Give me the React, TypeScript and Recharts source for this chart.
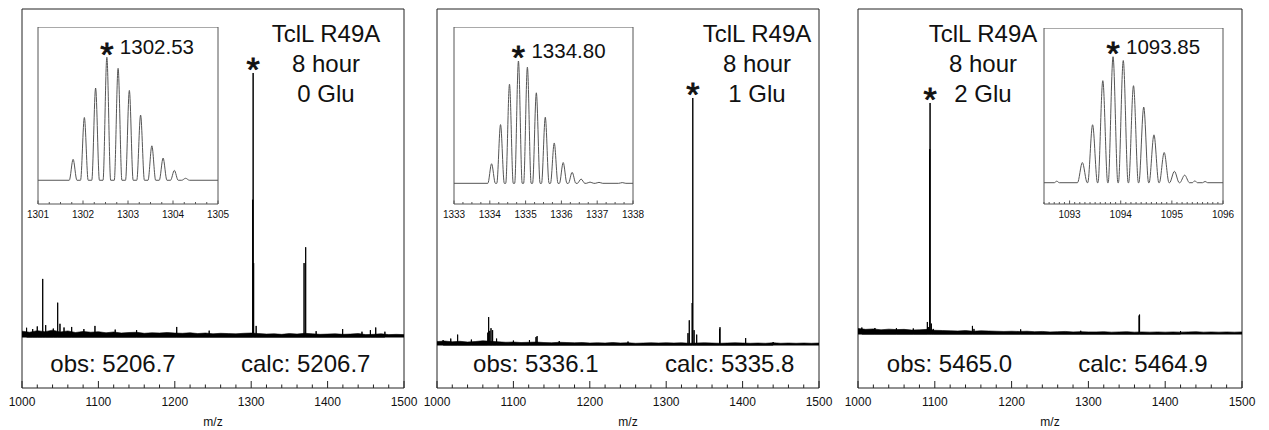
import React from "react";
import {
  ComposedChart,
  LineChart,
  Line,
  Area,
  XAxis,
  YAxis,
  ReferenceLine,
  ReferenceArea,
  ReferenceDot,
} from "recharts";

const FONT = '"Liberation Sans", Arial, Helvetica, sans-serif';

// shared m/z axis
const MZ_TICKS = [
  1000, 1020, 1040, 1060, 1080, 1100, 1120, 1140, 1160, 1180, 1200, 1220, 1240,
  1260, 1280, 1300, 1320, 1340, 1360, 1380, 1400, 1420, 1440, 1460, 1480, 1500,
];
const NOISE_MZ = [
  1000, 1010, 1020, 1030, 1040, 1050, 1060, 1070, 1080, 1090, 1100, 1110, 1120,
  1130, 1140, 1150, 1160, 1170, 1180, 1190, 1200, 1210, 1220, 1230, 1240, 1250,
  1260, 1270, 1280, 1290, 1300, 1310, 1320, 1330, 1340, 1350, 1360, 1370, 1380,
  1390, 1400, 1410, 1420, 1430, 1440, 1450, 1460, 1470, 1480, 1490, 1500,
];

// 0 Glu
const PEAK0_MZ = [
  1006, 1014, 1020, 1027.1, 1031, 1041, 1046.7, 1049.7, 1055, 1065, 1081, 1095.5,
  1122, 1150, 1202.5, 1245, 1302.0, 1302.53, 1303.2, 1306.5, 1369.2, 1371.3, 1385,
  1419.7, 1445, 1456, 1463, 1475,
];
const PEAK0_INT = [
  3.5, 3.0, 4.0, 22, 4.5, 3.2, 13, 5, 3.6, 3.8, 3.0, 4.2, 2.8, 2.6, 3.8, 2.4, 52,
  100, 28, 4.2, 28, 34, 2.2, 3.0, 2.0, 2.6, 3.6, 2.0,
];
const NOISE0 = [
  2.2, 1.8, 2.4, 2.0, 2.6, 1.9, 2.3, 1.7, 2.1, 1.8, 2.0, 1.6, 1.9, 1.5, 1.7, 1.8,
  1.4, 1.6, 1.5, 1.7, 1.5, 1.4, 1.6, 1.3, 1.5, 1.2, 1.4, 1.3, 1.2, 1.4, 1.5, 1.3,
  1.1, 1.2, 1.0, 1.3, 1.1, 1.4, 1.2, 1.0, 1.1, 1.2, 1.0, 1.1, 1.3, 0.9, 1.0, 1.2,
  0.9, 1.0, 0.9,
];
const ISO0: [number, number][] = [
  [1301, 0], [1301.695, 0], [1301.78, 17], [1301.865, 0], [1301.945, 0], [1302.03, 51],
  [1302.115, 0], [1302.195, 0], [1302.28, 75], [1302.365, 0], [1302.445, 0], [1302.53, 100],
  [1302.615, 0], [1302.695, 0], [1302.78, 91], [1302.865, 0], [1302.945, 0], [1303.03, 73],
  [1303.115, 0], [1303.195, 0], [1303.28, 53], [1303.365, 0], [1303.445, 0], [1303.53, 28],
  [1303.615, 0], [1303.695, 0], [1303.78, 18], [1303.865, 0], [1303.945, 0], [1304.03, 8],
  [1304.115, 0], [1304.195, 0], [1304.28, 1.6], [1304.365, 0], [1305, 0],
];
const ISO0_TICKS = [
  1301, 1301.25, 1301.5, 1301.75, 1302, 1302.25, 1302.5, 1302.75, 1303, 1303.25,
  1303.5, 1303.75, 1304, 1304.25, 1304.5, 1304.75, 1305,
];

// 1 Glu
const PEAK1_MZ = [
  1008, 1018, 1027, 1045, 1066.5, 1067.6, 1069, 1070.7, 1072.8, 1078, 1100, 1121,
  1129.6, 1131, 1160, 1250, 1328.5, 1330.2, 1334.0, 1334.8, 1336.5, 1339.9, 1369.8,
  1370.4, 1404, 1440,
];
const PEAK1_INT = [
  2.0, 2.6, 4.2, 2.2, 5, 11.3, 5.7, 6.8, 6.0, 2.6, 1.8, 2.0, 3.2, 3.6, 1.6, 1.4,
  4.8, 10, 17, 100, 6, 4.2, 6.5, 7.2, 2.8, 1.2,
];
const NOISE1 = [
  1.4, 1.6, 1.3, 1.5, 1.2, 1.4, 1.7, 1.5, 1.3, 1.1, 1.2, 1.0, 1.1, 1.2, 1.0, 0.9,
  1.1, 1.0, 0.9, 1.0, 0.8, 0.9, 0.8, 1.0, 0.8, 0.9, 0.7, 0.8, 0.9, 0.8, 0.9, 0.8,
  0.9, 0.7, 0.8, 0.9, 0.8, 0.7, 0.8, 0.9, 0.8, 0.7, 0.8, 0.7, 0.9, 0.7, 0.8, 0.7,
  0.8, 0.7, 0.8,
];
const ISO1: [number, number][] = [
  [1333, 0], [1333.945, 0], [1334.05, 16], [1334.155, 0], [1334.195, 0], [1334.3, 48],
  [1334.405, 0], [1334.445, 0], [1334.55, 81], [1334.655, 0], [1334.695, 0], [1334.8, 100],
  [1334.905, 0], [1334.945, 0], [1335.05, 95], [1335.155, 0], [1335.195, 0], [1335.3, 74],
  [1335.405, 0], [1335.445, 0], [1335.55, 54], [1335.655, 0], [1335.695, 0], [1335.8, 33],
  [1335.905, 0], [1335.945, 0], [1336.05, 17], [1336.155, 0], [1336.195, 0], [1336.3, 9],
  [1336.405, 0], [1336.445, 0], [1336.55, 3.5], [1336.655, 0], [1336.695, 0], [1336.8, 1],
  [1336.905, 0], [1336.945, 0], [1337.05, 0.8], [1337.155, 0], [1337.6, 0], [1337.7, 0.6],
  [1337.8, 0], [1338, 0],
];
const ISO1_TICKS = [
  1333, 1333.25, 1333.5, 1333.75, 1334, 1334.25, 1334.5, 1334.75, 1335, 1335.25,
  1335.5, 1335.75, 1336, 1336.25, 1336.5, 1336.75, 1337, 1337.25, 1337.5, 1337.75,
  1338,
];

// 2 Glu
const PEAK2_MZ = [
  1005, 1022, 1050, 1072, 1090.3, 1091.5, 1093.4, 1093.85, 1095.5, 1098, 1149,
  1151, 1211.8, 1290, 1366, 1366.6, 1420,
];
const PEAK2_INT = [
  2.8, 2.6, 2.5, 2.4, 5.2, 3, 80, 100, 4.5, 2.2, 3.5, 2.2, 2.0, 1.4, 8.0, 8.4, 1.3,
];
const NOISE2 = [
  2.4, 2.0, 2.2, 1.8, 2.1, 1.9, 2.0, 1.7, 1.8, 2.0, 1.6, 1.5, 1.4, 1.3, 1.5, 1.2,
  1.4, 1.3, 1.2, 1.1, 1.2, 1.1, 1.2, 1.0, 1.1, 0.9, 1.0, 1.1, 0.9, 1.0, 0.9, 0.9,
  1.0, 0.8, 0.9, 1.0, 0.8, 0.9, 0.8, 0.9, 0.8, 0.9, 0.8, 0.9, 1.0, 0.8, 0.9, 0.8,
  0.9, 0.8, 0.9,
];
const ISO2: [number, number][] = [
  [1092.5, 0], [1092.7, 0], [1092.75, 1.2], [1092.8, 0], [1093.155, 0], [1093.25, 16],
  [1093.345, 0], [1093.355, 0], [1093.45, 46], [1093.545, 0], [1093.555, 0], [1093.65, 81],
  [1093.745, 0], [1093.755, 0], [1093.85, 100], [1093.945, 0], [1093.955, 0], [1094.05, 97],
  [1094.145, 0], [1094.155, 0], [1094.25, 77], [1094.345, 0], [1094.355, 0], [1094.45, 60],
  [1094.545, 0], [1094.555, 0], [1094.65, 38], [1094.745, 0], [1094.755, 0], [1094.85, 24],
  [1094.945, 0], [1094.955, 0], [1095.05, 9], [1095.145, 0], [1095.155, 0], [1095.25, 6],
  [1095.345, 0], [1095.4, 0], [1095.45, 1.5], [1095.5, 0], [1095.6, 0], [1095.65, 1.0],
  [1095.7, 0], [1096, 0],
];
const ISO2_TICKS = [
  1092.5, 1092.6, 1092.7, 1092.8, 1092.9, 1093, 1093.1, 1093.2, 1093.3, 1093.4,
  1093.5, 1093.6, 1093.7, 1093.8, 1093.9, 1094, 1094.1, 1094.2, 1094.3, 1094.4,
  1094.5, 1094.6, 1094.7, 1094.8, 1094.9, 1095, 1095.1, 1095.2, 1095.3, 1095.4,
  1095.5, 1095.6, 1095.7, 1095.8, 1095.9, 1096,
];

const TITLE = ["TclL R49A", "8 hour"];
const GLU = ["0 Glu", "1 Glu", "2 Glu"];
const OBS = ["5206.7", "5336.1", "5465.0"];
const CALC = ["5206.7", "5335.8", "5464.9"];
const APEX = [1302.53, 1334.8, 1093.85];
const APEX_LABEL = ["1302.53", "1334.80", "1093.85"];

// layout (page pixels)
const PANELS = [
  {
    box: [22, 9, 404, 388], yDomain: [-19.32, 124.24], mz: PEAK0_MZ, int: PEAK0_INT, noise: NOISE0,
    textX: 326, obsX: 113, calcX: 305.7,
    inset: { box: [38, 27, 218, 204], x: [1301, 1305], y: [-19.3, 124.6], pts: ISO0, ticks: ISO0_TICKS },
  },
  {
    box: [437, 9, 819, 388], yDomain: [-17.41, 136.03], mz: PEAK1_MZ, int: PEAK1_INT, noise: NOISE1,
    textX: 757, obsX: 535.8, calcX: 729.7,
    inset: { box: [454, 27, 633, 204], x: [1333, 1338], y: [-16.9, 127.8], pts: ISO1, ticks: ISO1_TICKS },
  },
  {
    box: [858, 9, 1242, 388], yDomain: [-23.38, 140.69], mz: PEAK2_MZ, int: PEAK2_INT, noise: NOISE2,
    textX: 983, obsX: 949.5, calcX: 1143,
    inset: { box: [1044, 28, 1223, 204], x: [1092.5, 1096], y: [-16.9, 122.8], pts: ISO2, ticks: ISO2_TICKS },
  },
];

function sticks(mz: number[], inten: number[]) {
  const out: { mz: number; v: number }[] = [];
  mz.forEach((m, i) => {
    out.push({ mz: m, v: 0 }, { mz: m, v: inten[i] }, { mz: m, v: 0 });
  });
  return out;
}

function MainTick(props: any) {
  const { x, y, payload } = props;
  const major = payload.value % 100 === 0;
  return (
    <g>
      <line x1={x} x2={x} y1={y} y2={y - (major ? 7 : 3.5)} stroke="#222" strokeWidth={1} />
      {major && (
        <text x={x} y={y + 17.7} textAnchor="middle" fontSize={12} fontFamily={FONT} fill="#111">
          {payload.value}
        </text>
      )}
    </g>
  );
}

function InsetTick(props: any) {
  const { x, y, payload } = props;
  const v = payload.value;
  const major = Math.abs(v - Math.round(v)) < 1e-6;
  return (
    <g>
      <line x1={x} x2={x} y1={y} y2={y - (major ? 3.5 : 2)} stroke="#555" strokeWidth={1} />
      {major && (
        <text x={x} y={y + 14.3} textAnchor="middle" fontSize={10} fontFamily={FONT} fill="#111">
          {Math.round(v)}
        </text>
      )}
    </g>
  );
}

function Star({ cx, cy }: { cx: number; cy: number }) {
  return (
    <text
      x={cx}
      y={cy - 11 + 19.3}
      textAnchor="middle"
      fontSize={34}
      fontFamily={FONT}
      fill="#111"
      stroke="#111"
      strokeWidth={0.9}
    >
      *
    </text>
  );
}

const PAD = 25;

function Spectrum({ p, idx }: { p: (typeof PANELS)[number]; idx: number }) {
  const [l, t, r, b] = p.box;
  const data = sticks(p.mz, p.int);
  const noise = NOISE_MZ.map((mz, i) => ({ mz, v: p.noise[i] }));
  return (
    <div style={{ position: "absolute", left: l - PAD, top: 0 }}>
      <ComposedChart width={r - l + 2 * PAD} height={430} margin={{ top: t, right: PAD, bottom: 0, left: PAD }}>
        <XAxis
          type="number"
          dataKey="mz"
          domain={[1000, 1500]}
          allowDataOverflow
          ticks={MZ_TICKS}
          interval={0}
          height={430 - b}
          tickSize={0}
          tickMargin={0}
          axisLine={false}
          tickLine={false}
          tick={<MainTick />}
          label={{
            content: ({ viewBox }: any) => (
              <text
                x={viewBox.x + viewBox.width / 2}
                y={viewBox.y + 38}
                textAnchor="middle"
                fontSize={12}
                fontFamily={FONT}
                fill="#111"
              >
                m/z
              </text>
            ),
          }}
        />
        <YAxis type="number" hide domain={p.yDomain} allowDataOverflow />
        <ReferenceArea x1={1000} x2={1500} y1={p.yDomain[0]} y2={p.yDomain[1]} fill="none" stroke="#222" strokeWidth={1} />
        <ReferenceLine y={0} stroke="#000" strokeWidth={1.2} />
        <Area
          data={noise}
          dataKey="v"
          type="linear"
          baseValue={0}
          fill="#000"
          fillOpacity={1}
          stroke="#000"
          strokeWidth={0.6}
          isAnimationActive={false}
        />
        <Line data={data} dataKey="v" type="linear" stroke="#000" strokeWidth={1} dot={false} isAnimationActive={false} />
        <ReferenceDot x={APEX[idx]} y={100} r={0} shape={(s: any) => <Star cx={s.cx} cy={s.cy} />} />
      </ComposedChart>
    </div>
  );
}

function Inset({ p, idx }: { p: (typeof PANELS)[number]; idx: number }) {
  const s = p.inset;
  const [l, t, r, b] = s.box;
  const pad = 22;
  const data = s.pts.map(([mz, v]) => ({ mz, v }));
  return (
    <div style={{ position: "absolute", left: l - pad, top: t }}>
      <LineChart width={r - l + 2 * pad} height={b - t + 22} margin={{ top: 0, right: pad, bottom: 0, left: pad }} data={data}>
        <XAxis
          type="number"
          dataKey="mz"
          domain={s.x}
          allowDataOverflow
          ticks={s.ticks}
          interval={0}
          height={22}
          tickSize={0}
          tickMargin={0}
          axisLine={false}
          tickLine={false}
          tick={<InsetTick />}
        />
        <YAxis type="number" hide domain={s.y} allowDataOverflow />
        <ReferenceArea x1={s.x[0]} x2={s.x[1]} y1={s.y[0]} y2={s.y[1]} fill="#fff" fillOpacity={1} stroke="#555" strokeWidth={1} />
        <Line dataKey="v" type="monotone" stroke="#555" strokeWidth={1} dot={false} isAnimationActive={false} />
        <ReferenceDot
          x={APEX[idx]}
          y={100}
          r={0}
          shape={(d: any) => (
            <g>
              <Star cx={d.cx} cy={d.cy} />
              <text x={d.cx + 13} y={d.cy - 3} fontSize={20.5} fontFamily={FONT} fill="#111">
                {APEX_LABEL[idx]}
              </text>
            </g>
          )}
        />
      </LineChart>
    </div>
  );
}

export default function App() {
  return (
    <div
      style={{
        position: "absolute",
        left: 0,
        top: 0,
        width: 1269,
        height: 430,
        overflow: "hidden",
        background: "#fff",
        fontFamily: FONT,
      }}
    >
      {PANELS.map((p, i) => (
        <Spectrum key={"s" + i} p={p} idx={i} />
      ))}
      {PANELS.map((p, i) => (
        <Inset key={"i" + i} p={p} idx={i} />
      ))}
      <svg width={1269} height={430} style={{ position: "absolute", left: 0, top: 0, pointerEvents: "none" }}>
        {PANELS.map((p, i) => (
          <g key={"t" + i} fontFamily={FONT} fill="#111" textAnchor="middle">
            <text x={p.textX} y={41.7} fontSize={24}>{TITLE[0]}</text>
            <text x={p.textX} y={71.7} fontSize={24}>{TITLE[1]}</text>
            <text x={p.textX} y={101.7} fontSize={24}>{GLU[i]}</text>
            <text x={p.obsX} y={371.7} fontSize={24}>{"obs: " + OBS[i]}</text>
            <text x={p.calcX} y={371.7} fontSize={24}>{"calc: " + CALC[i]}</text>
          </g>
        ))}
      </svg>
    </div>
  );
}
